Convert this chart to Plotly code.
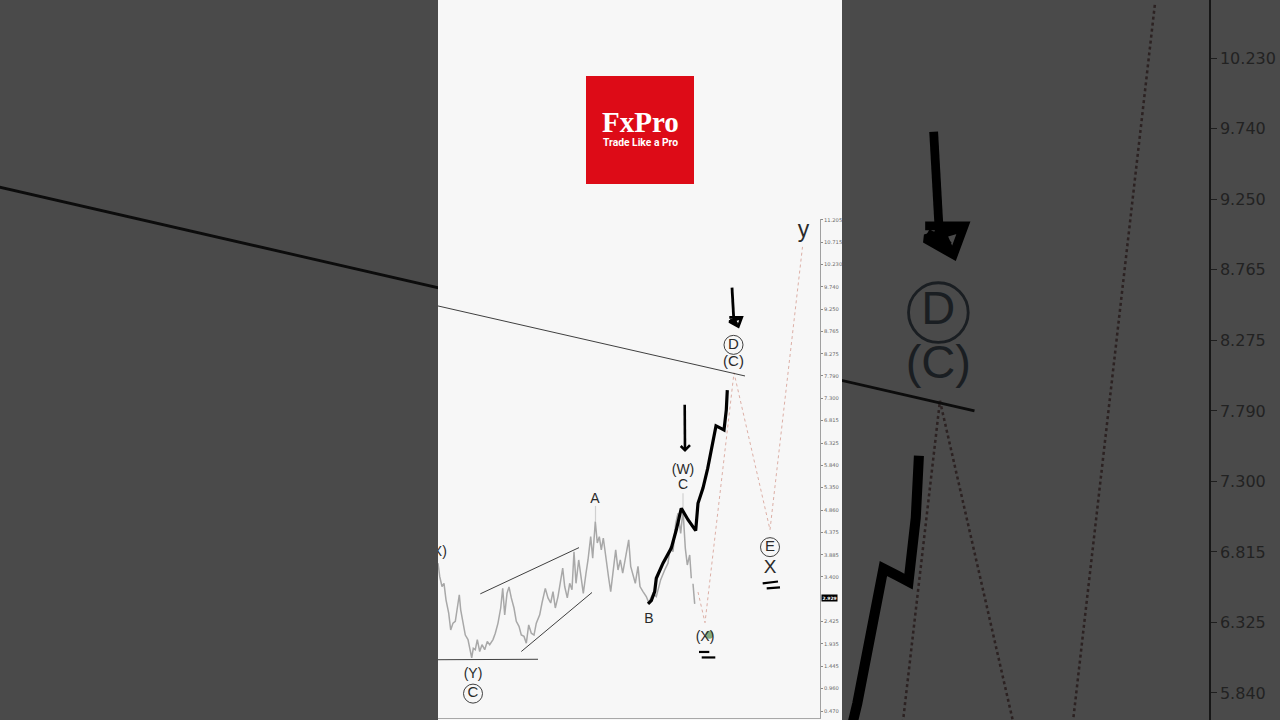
import plotly.graph_objects as go

# ---- data (x = bar position, y = price) ----
price_x = [0,1.7,4,6,8,10.7,12.7,15,17.3,19.3,21.3,22.7,25,27.3,30,32,33.7,35.3,37.3,39.3,41.7,44,46.7,49.3,51.7,55,57.3,60,62.7,64.7,66.7,69,71,73.3,76,78.3,81,83.3,86,88.3,90.7,93.3,96,98.3,101.7,104,107.3,110,112.7,115,117.3,120,122.3,124.7,126.7,129.3,131.7,134,136,138,140.7,143.3,145.3,148,150,152.7,154.7,157.3,159.3,161.3,163.3,165.3,168,170.7,172.7,175.3,177.7,180,182.3,184.7,187.3,190.7,192.7,195,197.3,200,202,205,208.3,210.7,215,218.3,222.7,226.7,230,232.3,235,237.7,240,242.7,245,247.3,249.3,251.7,253.3,None,255,256.7]
price_y = [3.70,3.41,3.19,3.26,2.90,2.61,2.24,2.39,2.43,2.68,3.01,2.68,2.39,2.13,2.03,1.81,1.63,1.84,1.81,2.03,1.77,1.92,1.81,1.99,1.92,2.03,2.17,2.39,2.72,3.15,2.57,3.04,3.18,2.94,2.72,2.43,2.32,2.13,2.10,1.95,2.35,2.17,2.13,2.39,2.57,2.83,3.15,2.94,2.83,3.08,2.72,2.97,3.26,3.59,3.19,2.94,3.26,3.12,3.95,3.26,3.77,3.41,3.04,3.48,3.77,4.28,3.81,4.61,4.14,4.28,3.99,4.25,3.77,3.37,3.08,3.63,3.99,3.55,3.77,3.48,3.77,4.21,3.63,3.41,3.26,3.63,3.19,3.08,2.97,2.84,3.04,2.97,3.34,3.55,3.70,4.06,3.95,4.57,4.79,4.35,4.86,4.03,3.66,3.88,3.37,None,3.25,2.81]
wick_x = [157.5,157.5,None,245,245]
wick_y = [4.61,4.95,None,4.86,5.23]

forecast_x = [260,267,296,332,364.5]
forecast_y = [3.07,2.40,7.86,4.43,10.61]

pen_x = [210,213.3,216.7,218.3,225,233.3,238.3,243.3,250,257.7,260,265,269.7,273.7,277,278,282.5,286,288.3,289.3]
pen_y = [2.81,2.88,3.08,3.37,3.70,4.03,4.43,4.90,4.65,4.41,5.01,5.34,5.77,6.21,6.61,6.70,6.65,6.61,7.05,7.48]

arrow_w_x = [246.7,247,None,242.7,247,252]
arrow_w_y = [7.16,6.17,None,6.26,6.17,6.28]
arrow_d_x = [294,296,None,291.3,303.7,300.3,291.3,302,None,292,299,None,296,299]
arrow_d_y = [9.72,8.94,None,9.07,9.07,8.87,8.98,9.05,None,9.02,8.93,None,9.05,8.90]
marks_x = [261,271.3,None,263.7,277.3,None,324.7,340,None,328.7,342]
marks_y = [1.76,1.76,None,1.64,1.64,None,3.26,3.30,None,3.15,3.17]

trend_x = [-4,307,None,42.3,141,None,83.3,154,None,-4,100]
trend_y = [9.34,7.79,None,3.03,4.04,None,1.77,3.06,None,1.59,1.60]

label_text = ["(X)","(Y)","A","B","C","(W)","(X)","(C)","X","y"]
label_x = [-0.5,35,157,211,245,245,267,295.5,332,365.5]
label_y = [3.93,1.265,5.09,2.47,5.39,5.72,2.07,8.10,3.60,10.96]
label_size = [14,14,14,14,14,14,14,15,19,23]

circle_text = ["C","D","E"]
circle_x = [35,295.5,332]
circle_y = [0.85,8.47,4.05]

green_x = [271.3]
green_y = [2.135]

tick_vals = [11.205,10.715,10.230,9.740,9.250,8.765,8.275,7.790,7.300,6.815,6.325,5.840,5.350,4.860,4.375,3.885,3.400,2.425,1.935,1.445,0.960,0.470]
tick_text = ["%.3f" % v for v in tick_vals]
last_price = 2.943

SANS = "Liberation Sans"
W, H = 1280, 720
ZOOM_RANGE = [5.653, 10.631]   # the dimmed copy only shows this slice of prices
MAIN_RANGE = [0.317, 11.22]
fig = go.Figure()


def layer(ax, ay, s, c, yr):
    k = dict(xaxis=ax, yaxis=ay, showlegend=False, hoverinfo="skip")
    fig.add_trace(go.Scatter(x=wick_x, y=wick_y, mode="lines", line=dict(color=c["wick"], width=1.2 * s), **k))
    fig.add_trace(go.Scatter(x=price_x, y=price_y, mode="lines", line=dict(color=c["price"], width=1.5 * s), **k))
    fig.add_trace(go.Scatter(x=forecast_x, y=forecast_y, mode="lines", line=dict(color=c["dot"], width=0.8 * s, dash="dot"), **k))
    fig.add_trace(go.Scatter(x=trend_x, y=trend_y, mode="lines", line=dict(color=c["ink"], width=0.9 * s), **k))
    fig.add_trace(go.Scatter(x=green_x, y=green_y, mode="markers", marker=dict(color="rgba(95,145,85,0.75)", size=8 * s), **k))
    for xs, ys, w in ((pen_x, pen_y, 3.2), (arrow_w_x, arrow_w_y, 2.6), (arrow_d_x, arrow_d_y, 2.8), (marks_x, marks_y, 2.2)):
        fig.add_trace(go.Scatter(x=xs, y=ys, mode="lines", line=dict(color=c["pen"], width=w * s), **k))
    lab = [i for i, v in enumerate(label_y) if yr[0] < v < yr[1]]
    fig.add_trace(go.Scatter(x=[label_x[i] for i in lab], y=[label_y[i] for i in lab], text=[label_text[i] for i in lab],
                             mode="text", textposition="middle center",
                             textfont=dict(family=SANS, color=c["text"], size=[label_size[i] * s for i in lab]), **k))
    cir = [i for i, v in enumerate(circle_y) if yr[0] < v < yr[1]]
    fig.add_trace(go.Scatter(x=[circle_x[i] for i in cir], y=[circle_y[i] for i in cir], text=[circle_text[i] for i in cir],
                             mode="markers+text", textposition="middle center",
                             marker=dict(symbol="circle-open", size=19 * s, color=c["text"], line=dict(width=0.9 * s, color=c["text"])),
                             textfont=dict(family=SANS, color=c["text"], size=15 * s), **k))


# zoomed, dimmed copy behind the sheet
layer("x", "y", 3.14, dict(wick="#3c3c3c", price="#343434", dot="#2c2222", ink="#0c0c0c", pen="#000000", text="#1a1e22"), ZOOM_RANGE)
# empty sheet that hides the middle of the zoomed copy
fig.add_trace(go.Scatter(x=[None], y=[None], xaxis="x2", yaxis="y2", showlegend=False, hoverinfo="skip"))
# main chart
layer("x3", "y3", 1, dict(wick="#d0d0d0", price="#a8a8a8", dot="#d49c90", ink="#2a2a2a", pen="#000000", text="#2a2a2a"), MAIN_RANGE)

fig.add_annotation(x=1.0, xref="x3 domain", xanchor="left", xshift=1, y=last_price, yref="y3", text="<b>2.929</b>", showarrow=False,
                   font=dict(family="DejaVu Sans", size=4.5, color="#ffffff"), bgcolor="#000000", borderpad=0.5)

# logo
fig.add_shape(type="rect", xref="paper", yref="paper", x0=586 / W, x1=694 / W, y0=1 - 184 / H, y1=1 - 76 / H,
              fillcolor="#dd0b17", line_width=0, layer="above")
fig.add_annotation(xref="paper", yref="paper", x=640.5 / W, y=1 - 122.5 / H, text="<b>FxPro</b>", showarrow=False,
                   xanchor="center", yanchor="middle", font=dict(family="Liberation Serif", size=29, color="#ffffff"))
fig.add_annotation(xref="paper", yref="paper", x=640.5 / W, y=1 - 142.5 / H, text="<b>Trade Like a Pro</b>", showarrow=False,
                   xanchor="center", yanchor="middle", font=dict(family="Roboto", size=10.3, color="#ffffff"))

hidden = dict(visible=False)
fig.update_layout(
    width=W, height=H, margin=dict(l=0, r=0, t=0, b=0, autoexpand=False),
    paper_bgcolor="#4a4a4a", plot_bgcolor="#f7f7f7", showlegend=False,
    shapes=list(fig.layout.shapes) + [dict(type="rect", xref="paper", yref="paper", x0=0, x1=1, y0=0, y1=1,
                                           fillcolor="#4a4a4a", line_width=0, layer="below")],
    xaxis=dict(domain=[0, 1], range=[-3.35, 404.3], anchor="y", **hidden),
    yaxis=dict(domain=[0, 1], range=ZOOM_RANGE, anchor="free", position=1210 / W, side="right",
               tickmode="array", tickvals=tick_vals, ticktext=tick_text, ticks="outside", ticklen=6, tickcolor="#1e1e1e",
               tickfont=dict(family="DejaVu Sans", size=16, color="#222222"), showline=True, linecolor="#161616", linewidth=1.5,
               showgrid=False, zeroline=False),
    xaxis2=dict(domain=[438 / W, 842 / W], range=[0, 1], anchor="y2", **hidden),
    yaxis2=dict(domain=[0, 1], range=[0, 1], anchor="x2", **hidden),
    xaxis3=dict(domain=[438 / W, 820 / W], range=[0, 382], anchor="y3", showticklabels=False, ticks="", showgrid=False, zeroline=False,
                showline=True, linecolor="#a8a8a8", linewidth=1),
    yaxis3=dict(domain=[2 / H, 1 - 219 / H], range=MAIN_RANGE, anchor="x3", side="right",
                tickmode="array", tickvals=tick_vals, ticktext=tick_text, ticks="outside", ticklen=2, tickcolor="#888888",
                tickfont=dict(family="DejaVu Sans", size=5.2, color="#6a6a6a"), showline=True, linecolor="#a0a0a0", linewidth=1,
                showgrid=False, zeroline=False),
)

fig.write_html("out.html", config=dict(displayModeBar=False),
               post_script="document.body.style.margin='0';document.body.style.overflow='hidden';")
